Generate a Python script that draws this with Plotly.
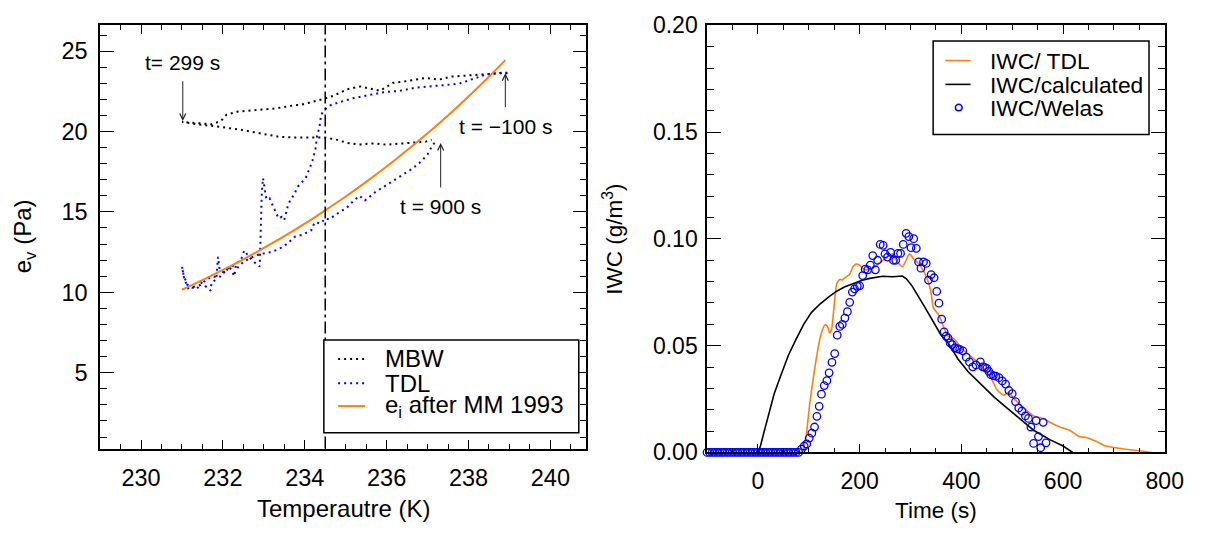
import plotly.graph_objects as go

FONT = "Liberation Sans, Arial, Helvetica, sans-serif"
W, H = 1213, 539

# ---------------- left panel: water vapour pressure vs temperature ----------------
# MBW frost point hygrometer (cooling branch, then warming branch)
mbw_T = [238.95, 238.84, 238.56, 238.24, 237.92, 237.60, 237.28, 236.96, 236.40, 236.16,
         235.84, 235.60, 235.36, 235.04, 234.72, 234.48, 234.16, 233.88, 233.76, 233.30,
         232.83, 232.37, 232.09, 231.95, 231.72, 231.35, 231.00,
         231.35, 231.90, 232.46, 232.92, 233.39, 233.76, 234.08, 234.48, 234.80, 235.04,
         235.36, 235.68, 236.00, 236.32, 236.64, 236.96, 237.10]
mbw_e = [23.66, 23.66, 23.58, 23.52, 23.46, 23.42, 23.23, 23.33, 23.10, 23.03,
         22.53, 22.68, 22.80, 22.63, 22.24, 22.04, 21.85, 21.65, 21.64, 21.44,
         21.34, 21.24, 21.05, 20.65, 20.45, 20.55, 20.60,
         20.45, 20.30, 20.10, 19.90, 19.66, 19.63, 19.63, 19.63, 19.48, 19.28,
         19.20, 19.26, 19.18, 19.24, 19.32, 19.37, 19.48]

# TDL hygrometer
tdl_T = [238.95, 238.85, 238.75, 238.62, 238.40, 238.08, 237.80, 237.60, 237.20, 236.72,
         236.32, 235.92, 235.52, 235.20, 234.88, 234.64, 234.48, 234.40, 234.36, 234.30,
         234.26, 234.18, 234.02, 233.90, 233.84, 233.72, 233.64, 233.58, 233.50, 233.44,
         233.36, 233.28, 233.20, 233.14, 233.06, 232.98, 232.95, 232.94, 232.93, 232.92,
         232.90, 232.80, 232.64, 232.52, 232.44, 232.32, 232.28, 232.16, 232.04, 231.92,
         231.88, 231.84, 231.72, 231.70, 231.56, 231.48, 231.36, 231.24, 231.12, 231.04,
         231.00,
         231.05, 231.15, 231.30, 231.45, 231.60, 231.75, 231.90, 232.05, 232.20, 232.35,
         232.50, 232.65, 232.80, 232.96, 233.12, 233.36, 233.56, 233.76, 233.92, 234.16,
         234.24, 234.40, 234.50, 234.59, 234.69, 234.87, 235.01, 235.20, 235.34, 235.47,
         235.57, 235.71, 235.89, 236.08, 236.26, 236.45, 236.63, 236.82, 237.00, 237.10,
         237.17]
tdl_e = [23.60, 23.68, 23.58, 23.62, 23.52, 23.22, 23.00, 22.93, 22.83, 22.73,
         22.53, 22.44, 22.24, 22.08, 21.85, 21.65, 21.35, 21.05, 20.30, 19.70,
         18.90, 18.10, 17.10, 16.75, 16.60, 16.00, 15.70, 15.30, 14.50, 14.70,
         14.60, 15.05, 15.50, 15.85, 15.80, 17.10, 16.20, 15.00, 13.80, 12.80,
         11.60, 11.80, 12.20, 12.60, 12.00, 11.80, 11.00, 11.60, 11.20, 11.40,
         12.20, 10.80, 10.60, 10.10, 10.40, 10.60, 10.20, 10.30, 10.50, 11.10,
         11.60,
         10.90, 10.25, 10.35, 10.45, 10.80, 11.00, 10.90, 11.30, 11.70, 11.50,
         11.90, 12.10, 12.30, 12.40, 12.47, 12.67, 13.00, 13.46, 13.56, 13.86,
         14.35, 14.30, 14.60, 14.53, 14.72, 15.02, 15.22, 15.71, 16.00, 15.71,
         15.91, 16.21, 16.50, 16.80, 17.10, 17.39, 17.69, 18.08, 18.58, 19.05,
         19.30]

# ice saturation vapour pressure (Marti & Mauersberger 1993)
ice_T = [231.0, 231.5, 232.0, 232.5, 233.0, 233.5, 234.0, 234.5, 235.0, 235.5,
         236.0, 236.5, 237.0, 237.5, 238.0, 238.5, 238.9]
ice_e = [10.16, 10.76, 11.39, 12.05, 12.76, 13.49, 14.27, 15.10, 15.96, 16.87,
         17.82, 18.83, 19.89, 21.00, 22.18, 23.41, 24.44]

T_MARK = 234.5

# time labels along the hygrometer traces: (text, T, arrow tip, arrow tail / label centre)
time_marks = [("t= 299 s", 231.02, 20.66, 24.31),
              ("t = \u2212100 s", 238.90, 23.62, 20.33),
              ("t = 900 s", 237.32, 19.28, 15.34)]

# ---------------- right panel: ice water content vs time ----------------
iwc_tdl_t = [88, 95, 102, 110, 118, 125, 132, 137, 141, 145, 150, 155, 161, 166, 171,
             180, 187, 193, 200, 206, 213, 220, 226, 238, 251, 264, 274, 284, 290, 298,
             306, 316, 326, 332, 339, 342, 345, 355, 364, 374, 380, 387, 400, 413, 439,
             458, 471, 484, 493, 503, 523, 542, 561, 574, 594, 613, 632, 645, 665, 684,
             703, 723, 749, 774]
iwc_tdl = [0.0, 0.008, 0.023, 0.0366, 0.0485, 0.056, 0.0598, 0.059, 0.056, 0.0578,
           0.069, 0.079, 0.081, 0.0808, 0.0818, 0.0833, 0.087, 0.0882, 0.0877, 0.0862,
           0.0855, 0.0857, 0.0862, 0.0885, 0.0907, 0.093, 0.0892, 0.087, 0.0892, 0.093,
           0.0907, 0.0885, 0.0848, 0.0818, 0.0766, 0.0721, 0.0677, 0.0647, 0.0595, 0.0543,
           0.054, 0.0528, 0.049, 0.0461, 0.0409, 0.035, 0.029, 0.0268, 0.0283, 0.0253,
           0.0208, 0.0171, 0.0159, 0.0141, 0.0119, 0.0104, 0.0074, 0.007, 0.0052, 0.003,
           0.0022, 0.0015, 0.0008, 0.0]

iwc_calc_t = [0, 5, 12, 20, 32, 45, 60, 75, 90, 105, 122, 140, 155, 170, 187, 205, 220,
              245, 265, 284, 292, 303, 329, 348, 360, 374, 393, 413, 439, 464, 490, 516,
              542, 574, 600, 619]
iwc_calc = [0.0, 0.003, 0.0095, 0.0165, 0.0275, 0.036, 0.0455, 0.053, 0.06, 0.0655,
            0.0695, 0.073, 0.0755, 0.0775, 0.079, 0.0806, 0.0815, 0.0825, 0.0823, 0.0826,
            0.0813, 0.078, 0.0677, 0.0596, 0.055, 0.0513, 0.0439, 0.0379, 0.032, 0.026,
            0.0208, 0.0156, 0.0104, 0.006, 0.003, 0.0]

welas_t = [-100, -95, -90, -85, -80, -75, -70, -65, -60, -55, -50, -45, -40, -35, -30,
           -25, -20, -15, -10, -5, 0, 5, 10, 15, 20, 25, 30, 35, 40, 45, 50, 55, 60, 65,
           70, 75, 80,
           85.7, 91, 96, 101, 106, 111.4, 116, 120.5, 125, 130.4, 135.7, 140, 145.6, 151,
           156, 161, 166, 171, 176, 180.5, 185.7, 190, 195.4, 200, 206, 211, 216, 221,
           225.8, 231, 235.4, 240.5, 246.3, 250, 254.8, 261, 266.4, 271, 275.3, 280.5,
           285.8, 291.5, 296.7, 301, 306.3, 311.5, 316, 320.6, 325.7, 331, 335.4, 340.6,
           346.4, 351.6, 356, 361.3, 366, 370, 374, 378, 382, 387, 392, 396.7, 403, 409.7,
           416, 422.5, 428.9, 437.4, 441.9, 446, 450, 454, 458, 463, 467.7, 474, 480.5,
           487, 493.5, 500, 506.5, 512.8, 519, 525.9, 532, 536.7, 542, 547, 551.6, 556,
           561, 566.5]
welas_iwc = [
    0.0, 0.0, 0.0, 0.0, 0.0, 0.0, 0.0, 0.0, 0.0, 0.0, 0.0, 0.0, 0.0, 0.0, 0.0,
    0.0, 0.0, 0.0, 0.0, 0.0, 0.0, 0.0, 0.0, 0.0, 0.0, 0.0, 0.0, 0.0, 0.0, 0.0,
    0.0, 0.0, 0.0, 0.0, 0.0, 0.0, 0.0,
    0.0015, 0.003, 0.004, 0.0067, 0.009, 0.0119, 0.0169, 0.0216, 0.0273, 0.0313,
    0.0336, 0.0373, 0.0422, 0.0463, 0.0549, 0.059, 0.06, 0.0629, 0.0659, 0.0703,
    0.0751, 0.0766, 0.0778, 0.078, 0.0828, 0.0858, 0.0855, 0.0877, 0.0922, 0.0855,
    0.09, 0.0974, 0.097, 0.093, 0.0915, 0.0937, 0.09, 0.09, 0.0932, 0.0932,
    0.0974, 0.1026, 0.1011, 0.0959, 0.1001, 0.0956, 0.0892, 0.0863, 0.0892, 0.0885,
    0.0807, 0.0833, 0.0818, 0.0754, 0.0699, 0.0624, 0.0565, 0.0545, 0.0535, 0.0513,
    0.0505, 0.049, 0.0486, 0.0483, 0.0476, 0.0446, 0.0424, 0.0401, 0.041, 0.0424,
    0.0401, 0.0398, 0.0394, 0.038, 0.0364, 0.036, 0.0357, 0.035, 0.0335, 0.032,
    0.029, 0.0275, 0.0238, 0.0208, 0.0194, 0.0171, 0.0159, 0.0119, 0.0042, 0.0149,
    0.0074, 0.0022, 0.0141, 0.0045]

ORANGE = "#ff7f0e"
BLUE = "#0000ff"
DOTS = "2px,4px"

fig = go.Figure()

# left panel traces
fig.add_trace(go.Scatter(x=mbw_T, y=mbw_e, mode="lines", name="MBW",
                         line=dict(color="black", width=2, dash=DOTS),
                         xaxis="x", yaxis="y"))
fig.add_trace(go.Scatter(x=tdl_T, y=tdl_e, mode="lines", name="TDL",
                         line=dict(color=BLUE, width=2, dash=DOTS),
                         xaxis="x", yaxis="y"))
fig.add_trace(go.Scatter(x=ice_T, y=ice_e, mode="lines", name="e_i after MM 1993",
                         line=dict(color=ORANGE, width=2, shape="spline"),
                         xaxis="x", yaxis="y"))

# right panel traces
fig.add_trace(go.Scatter(x=iwc_tdl_t, y=iwc_tdl, mode="lines", name="IWC/ TDL",
                         line=dict(color=ORANGE, width=1.6, shape="spline", smoothing=0.6),
                         xaxis="x2", yaxis="y2"))
fig.add_trace(go.Scatter(x=iwc_calc_t, y=iwc_calc, mode="lines", name="IWC/calculated",
                         line=dict(color="black", width=1.6),
                         xaxis="x2", yaxis="y2"))
fig.add_trace(go.Scatter(x=welas_t, y=welas_iwc, mode="markers", name="IWC/Welas",
                         marker=dict(symbol="circle-open", size=7.5, color=BLUE,
                                     line=dict(width=1.3, color=BLUE)),
                         cliponaxis=False, xaxis="x2", yaxis="y2"))


def axis_style(size, **kw):
    base = dict(showline=True, linecolor="black", linewidth=1.5, mirror="ticks",
                ticks="inside", tickcolor="black", tickwidth=1.3,
                showgrid=False, zeroline=False,
                tickfont=dict(family=FONT, size=size, color="black"))
    base.update(kw)
    return base


def minor(dtick, length):
    return dict(dtick=dtick, ticklen=length, ticks="inside",
                tickcolor="black", tickwidth=1.3)


def px_x(v):
    return v / W


def px_y(v):
    return 1 - v / H


fig.update_layout(
    width=W, height=H,
    margin=dict(l=0, r=0, t=0, b=0),
    paper_bgcolor="white", plot_bgcolor="white",
    showlegend=False,
    font=dict(family=FONT, size=23, color="black"),
    xaxis=axis_style(23.5, domain=[px_x(101.7), px_x(595.7)], range=[229.0, 240.88],
                     tick0=230, dtick=2, ticklen=9, anchor="y", ticklabelstandoff=7,
                     minor=minor(0.5, 4.5)),
    yaxis=axis_style(23.5, domain=[px_y(457.7), px_y(13)], range=[0.28, 26.6],
                     tick0=0, dtick=5, ticklen=14, anchor="x", ticklabelstandoff=6,
                     minor=minor(1, 7)),
    xaxis2=axis_style(23, domain=[px_x(718.3), px_x(1183.3)], range=[-100, 800],
                      tick0=0, dtick=200, ticklen=9, anchor="y2", ticklabelstandoff=7,
                      minor=minor(50, 4.5)),
    yaxis2=axis_style(23, domain=[px_y(461.7), px_y(13)], range=[0, 0.2],
                      tick0=0, dtick=0.05, tickformat=".2f", ticklen=14, anchor="x2",
                      ticklabelstandoff=3, minor=minor(0.01, 7)),
)

shapes = []
# dash-dot marker line at the reference temperature
shapes.append(dict(type="line", xref="x", yref="y domain", x0=T_MARK, x1=T_MARK,
                   y0=0, y1=1, line=dict(color="black", width=1.5,
                                         dash="12px,4px,3px,4px")))

annotations = []

# left legend box and keys
shapes.append(dict(type="rect", xref="paper", yref="paper",
                   x0=px_x(329), x1=px_x(588), y0=px_y(441), y1=px_y(343.5),
                   line=dict(color="black", width=1.5), fillcolor="white"))
left_keys = [("MBW", dict(color="black", width=2, dash=DOTS), 363.5),
             ("TDL", dict(color=BLUE, width=2, dash=DOTS), 389),
             ("e<sub>i</sub> after MM 1993", dict(color=ORANGE, width=2), 413)]
for label, lstyle, ypx in left_keys:
    shapes.append(dict(type="line", xref="paper", yref="paper",
                       x0=px_x(343.5), x1=px_x(371), y0=px_y(ypx), y1=px_y(ypx),
                       line=lstyle))
    annotations.append(dict(text=label, xref="paper", yref="paper", x=px_x(390),
                            y=px_y(ypx), xanchor="left", yanchor="middle",
                            height=23, borderpad=0,
                            showarrow=False, font=dict(size=24)))

# right legend box and keys
shapes.append(dict(type="rect", xref="paper", yref="paper",
                   x0=px_x(948), x1=px_x(1167.3), y0=px_y(127.7), y1=px_y(29.3),
                   line=dict(color="black", width=1.5), fillcolor="white"))
right_keys = [("IWC/ TDL", 50, dict(color=ORANGE, width=1.6)),
              ("IWC/calculated", 75, dict(color="black", width=1.6)),
              ("IWC/Welas", 99.3, None)]
for label, ypx, lstyle in right_keys:
    if lstyle is not None:
        shapes.append(dict(type="line", xref="paper", yref="paper",
                           x0=px_x(960.5), x1=px_x(986), y0=px_y(ypx), y1=px_y(ypx),
                           line=lstyle))
    else:
        shapes.append(dict(type="circle", xref="paper", yref="paper",
                           x0=px_x(974 - 3.4), x1=px_x(974 + 3.4),
                           y0=px_y(ypx + 3.4), y1=px_y(ypx - 3.4),
                           line=dict(color=BLUE, width=1.5)))
    annotations.append(dict(text=label, xref="paper", yref="paper", x=px_x(1005),
                            y=px_y(ypx), xanchor="left", yanchor="middle",
                            height=23, borderpad=0,
                            showarrow=False, font=dict(size=22.8)))

# time labels with arrows pointing at the traces
for label, t_pos, tip, tail in time_marks:
    annotations.append(dict(text=label, x=t_pos, y=tip, ax=t_pos, ay=tail,
                            xref="x", yref="y", axref="x", ayref="y",
                            showarrow=True, arrowhead=5, arrowsize=1.2, arrowwidth=1,
                            arrowcolor="#222222", standoff=0, startstandoff=6,
                            font=dict(size=21)))

# axis titles
annotations += [
    dict(text="Temperautre (K)", xref="paper", yref="paper", x=px_x(348.7),
         y=px_y(521), xanchor="center", yanchor="middle", showarrow=False,
         font=dict(size=24)),
    dict(text="Time (s)", xref="paper", yref="paper", x=px_x(950.8),
         y=px_y(523), xanchor="center", yanchor="middle", showarrow=False,
         font=dict(size=22.5)),
    dict(text="e<sub>v</sub> (Pa)", xref="paper", yref="paper", x=px_x(25),
         y=px_y(235), xanchor="center", yanchor="middle", textangle=-90,
         showarrow=False, font=dict(size=24)),
    dict(text="IWC (g/m<sup>3</sup>)", xref="paper", yref="paper", x=px_x(622),
         y=px_y(238), xanchor="center", yanchor="middle", textangle=-90,
         showarrow=False, font=dict(size=22.5)),
]

fig.update_layout(shapes=shapes, annotations=annotations)
fig.write_html("out.html")
